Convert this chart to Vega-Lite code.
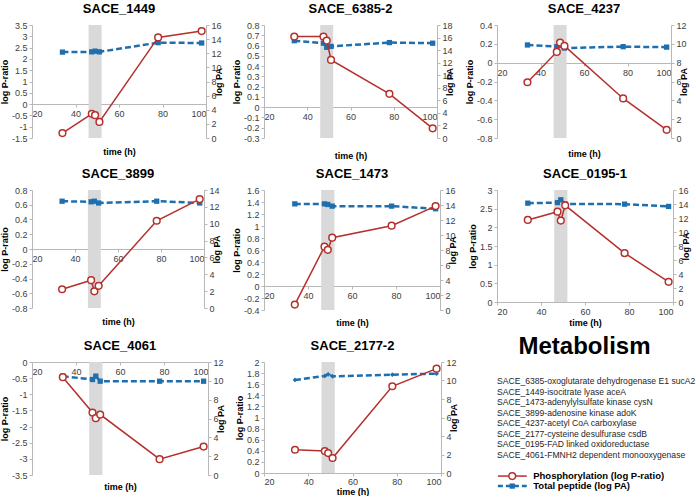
{
 "$schema": "https://vega.github.io/schema/vega-lite/v6.json",
 "padding": {"left": 0, "top": 3, "right": 0, "bottom": 0},
 "config": {
  "view": {"stroke": null},
  "font": "Liberation Sans",
  "title": {"font": "Liberation Sans", "fontSize": 13, "fontWeight": "bold", "color": "#000", "offset": 5, "anchor": "middle"},
  "axis": {"labelFont": "Liberation Sans", "labelFontSize": 9, "labelColor": "#404040", "titleFont": "Liberation Sans", "titleFontSize": 9, "titleFontWeight": "bold", "titleColor": "#000", "domainColor": "#b8b8b8", "tickColor": "#b8b8b8", "tickSize": 3, "grid": false, "labelPadding": 2, "titlePadding": 2}
 },
 "datasets": {
  "band": [{"start": 46, "end": 52}],
  "d": [
   {"gene": "SACE_1449", "t": 34, "pr": -1.28, "pa": 12.16},
   {"gene": "SACE_1449", "t": 47.5, "pr": -0.43, "pa": 12.2},
   {"gene": "SACE_1449", "t": 49, "pr": -0.49, "pa": 12.3},
   {"gene": "SACE_1449", "t": 51, "pr": -0.79, "pa": 12.2},
   {"gene": "SACE_1449", "t": 78, "pr": 2.95, "pa": 13.5},
   {"gene": "SACE_1449", "t": 98, "pr": 3.23, "pa": 13.45},
   {"gene": "SACE_6385-2", "t": 34, "pr": 0.687, "pa": 15.5},
   {"gene": "SACE_6385-2", "t": 47.5, "pr": 0.687, "pa": 15.1},
   {"gene": "SACE_6385-2", "t": 49, "pr": 0.648, "pa": 14.45},
   {"gene": "SACE_6385-2", "t": 51, "pr": 0.46, "pa": 14.6},
   {"gene": "SACE_6385-2", "t": 78, "pr": 0.13, "pa": 15.2},
   {"gene": "SACE_6385-2", "t": 98, "pr": -0.206, "pa": 15.1},
   {"gene": "SACE_4237", "t": 34, "pr": -0.208, "pa": 9.88},
   {"gene": "SACE_4237", "t": 47.5, "pr": 0.114, "pa": 9.7},
   {"gene": "SACE_4237", "t": 49, "pr": 0.213, "pa": 9.85},
   {"gene": "SACE_4237", "t": 51, "pr": 0.178, "pa": 9.55},
   {"gene": "SACE_4237", "t": 78, "pr": -0.38, "pa": 9.7},
   {"gene": "SACE_4237", "t": 98, "pr": -0.713, "pa": 9.65},
   {"gene": "SACE_3899", "t": 34, "pr": -0.546, "pa": 12.67},
   {"gene": "SACE_3899", "t": 47.5, "pr": -0.423, "pa": 12.6},
   {"gene": "SACE_3899", "t": 49, "pr": -0.574, "pa": 12.67},
   {"gene": "SACE_3899", "t": 51, "pr": -0.499, "pa": 12.46},
   {"gene": "SACE_3899", "t": 78, "pr": 0.383, "pa": 12.67},
   {"gene": "SACE_3899", "t": 98, "pr": 0.677, "pa": 12.46},
   {"gene": "SACE_1473", "t": 34, "pr": -0.309, "pa": 14.15},
   {"gene": "SACE_1473", "t": 47.5, "pr": 0.656, "pa": 14.15},
   {"gene": "SACE_1473", "t": 49, "pr": 0.603, "pa": 14.07},
   {"gene": "SACE_1473", "t": 51, "pr": 0.806, "pa": 13.85},
   {"gene": "SACE_1473", "t": 78, "pr": 1.005, "pa": 13.85},
   {"gene": "SACE_1473", "t": 98, "pr": 1.332, "pa": 13.5},
   {"gene": "SACE_0195-1", "t": 34, "pr": 2.197, "pa": 14.12},
   {"gene": "SACE_0195-1", "t": 47.5, "pr": 2.42, "pa": 14.2},
   {"gene": "SACE_0195-1", "t": 49, "pr": 2.18, "pa": 14.6},
   {"gene": "SACE_0195-1", "t": 51, "pr": 2.59, "pa": 14.0},
   {"gene": "SACE_0195-1", "t": 78, "pr": 1.31, "pa": 13.98},
   {"gene": "SACE_0195-1", "t": 98, "pr": 0.54, "pa": 13.65},
   {"gene": "SACE_4061", "t": 34, "pr": -0.47, "pa": 10.49},
   {"gene": "SACE_4061", "t": 47.5, "pr": -1.566, "pa": 10.14},
   {"gene": "SACE_4061", "t": 49, "pr": -1.74, "pa": 10.5},
   {"gene": "SACE_4061", "t": 51, "pr": -1.627, "pa": 9.96},
   {"gene": "SACE_4061", "t": 78, "pr": -3.01, "pa": 9.96},
   {"gene": "SACE_4061", "t": 98, "pr": -2.62, "pa": 9.96},
   {"gene": "SACE_2177-2", "t": 34, "pr": 0.419, "pa": 10.06},
   {"gene": "SACE_2177-2", "t": 47.5, "pr": 0.395, "pa": 10.49},
   {"gene": "SACE_2177-2", "t": 49, "pr": 0.359, "pa": 10.67},
   {"gene": "SACE_2177-2", "t": 51, "pr": 0.27, "pa": 10.45},
   {"gene": "SACE_2177-2", "t": 78, "pr": 1.563, "pa": 10.63},
   {"gene": "SACE_2177-2", "t": 98, "pr": 1.88, "pa": 10.74}
  ],
  "genes": [
   {"r": 1, "s": "SACE_6385-oxoglutarate dehydrogenase E1 sucA2"},
   {"r": 2, "s": "SACE_1449-isocitrate lyase aceA"},
   {"r": 3, "s": "SACE_1473-adenylylsulfate kinase cysN"},
   {"r": 4, "s": "SACE_3899-adenosine kinase adoK"},
   {"r": 5, "s": "SACE_4237-acetyl CoA carboxylase"},
   {"r": 6, "s": "SACE_2177-cysteine desulfurase csdB"},
   {"r": 7, "s": "SACE_0195-FAD linked oxidoreductase"},
   {"r": 8, "s": "SACE_4061-FMNH2 dependent monooxygenase"}
  ],
  "leg": [
   {"k": "P", "x": 0.5, "r": 10.0},
   {"k": "P", "x": 17, "r": 10.0},
   {"k": "T", "x": 0.5, "r": 10.95},
   {"k": "T", "x": 17, "r": 10.95}
  ],
  "legpt": [
   {"k": "P", "x": 8.7, "r": 10.0, "s": "Phosphorylation (log P-ratio)"},
   {"k": "T", "x": 8.7, "r": 10.95, "s": "Total peptide (log PA)"}
  ]
 },
 "bounds": "flush",
 "columns": 3,
 "spacing": {"row": 52, "column": 56},
 "concat": [
    {
     "title": "SACE_1449", "width": 174, "height": 113,
     "layer": [
      {"data": {"name": "band"}, "mark": {"type": "rect", "color": "#d9d9d9"},
       "encoding": {"x": {"field": "start", "type": "quantitative", "scale": {"domain": [20, 100], "nice": false, "zero": false}, "axis": {"values": [20, 30, 40, 50, 60, 70, 80, 90, 100], "title": "time (h)", "offset": -34, "titleY": 43, "titleBaseline": "top"}}, "x2": {"field": "end"}}},
      {"data": {"name": "d"}, "transform": [{"filter": "datum.gene === 'SACE_1449'"}],
       "mark": {"type": "line", "color": "#1f6fae", "strokeWidth": 2.5, "strokeDash": [6, 3], "point": {"shape": "square", "size": 28, "filled": true, "color": "#1f6fae"}},
       "encoding": {"x": {"field": "t", "type": "quantitative"}, "y": {"field": "pa", "type": "quantitative", "scale": {"domain": [0, 16], "nice": false, "zero": false}, "axis": {"orient": "right", "values": [0, 2, 4, 6, 8, 10, 12, 14, 16], "title": "log PA", "titleAngle": -90}}}},
      {"data": {"name": "d"}, "transform": [{"filter": "datum.gene === 'SACE_1449'"}],
       "mark": {"type": "line", "color": "#b5302c", "strokeWidth": 1.5, "point": {"filled": false, "fill": "white", "size": 45, "strokeWidth": 1.5, "color": "#b5302c"}},
       "encoding": {"x": {"field": "t", "type": "quantitative"}, "y": {"field": "pr", "type": "quantitative", "scale": {"domain": [-1.5, 3.5], "nice": false, "zero": false}, "axis": {"orient": "left", "values": [-1.5, -1, -0.5, 0, 0.5, 1, 1.5, 2, 2.5, 3, 3.5], "labelExpr": "'' + datum.value", "title": "log P-ratio"}}}}
     ],
     "resolve": {"scale": {"y": "independent"}}
    },
    {
     "title": "SACE_6385-2", "width": 173, "height": 113,
     "layer": [
      {"data": {"name": "band"}, "mark": {"type": "rect", "color": "#d9d9d9"},
       "encoding": {"x": {"field": "start", "type": "quantitative", "scale": {"domain": [20, 100], "nice": false, "zero": false}, "axis": {"values": [20, 30, 40, 50, 60, 70, 80, 90, 100], "title": "time (h)", "offset": -31, "titleY": 44, "titleBaseline": "top"}}, "x2": {"field": "end"}}},
      {"data": {"name": "d"}, "transform": [{"filter": "datum.gene === 'SACE_6385-2'"}],
       "mark": {"type": "line", "color": "#1f6fae", "strokeWidth": 2.5, "strokeDash": [6, 3], "point": {"shape": "square", "size": 28, "filled": true, "color": "#1f6fae"}},
       "encoding": {"x": {"field": "t", "type": "quantitative"}, "y": {"field": "pa", "type": "quantitative", "scale": {"domain": [0, 18], "nice": false, "zero": false}, "axis": {"orient": "right", "values": [0, 2, 4, 6, 8, 10, 12, 14, 16, 18], "title": "log PA", "titleAngle": -90}}}},
      {"data": {"name": "d"}, "transform": [{"filter": "datum.gene === 'SACE_6385-2'"}],
       "mark": {"type": "line", "color": "#b5302c", "strokeWidth": 1.5, "point": {"filled": false, "fill": "white", "size": 45, "strokeWidth": 1.5, "color": "#b5302c"}},
       "encoding": {"x": {"field": "t", "type": "quantitative"}, "y": {"field": "pr", "type": "quantitative", "scale": {"domain": [-0.3, 0.8], "nice": false, "zero": false}, "axis": {"orient": "left", "values": [-0.3, -0.2, -0.1, 0, 0.1, 0.2, 0.3, 0.4, 0.5, 0.6, 0.7, 0.8], "labelExpr": "'' + datum.value", "title": "log P-ratio"}}}}
     ],
     "resolve": {"scale": {"y": "independent"}}
    },
    {
     "title": "SACE_4237", "width": 174, "height": 113,
     "layer": [
      {"data": {"name": "band"}, "mark": {"type": "rect", "color": "#d9d9d9"},
       "encoding": {"x": {"field": "start", "type": "quantitative", "scale": {"domain": [20, 100], "nice": false, "zero": false}, "axis": {"values": [20, 30, 40, 50, 60, 70, 80, 90, 100], "title": "time (h)", "offset": -75, "titleY": 86, "titleBaseline": "top"}}, "x2": {"field": "end"}}},
      {"data": {"name": "d"}, "transform": [{"filter": "datum.gene === 'SACE_4237'"}],
       "mark": {"type": "line", "color": "#1f6fae", "strokeWidth": 2.5, "strokeDash": [6, 3], "point": {"shape": "square", "size": 28, "filled": true, "color": "#1f6fae"}},
       "encoding": {"x": {"field": "t", "type": "quantitative"}, "y": {"field": "pa", "type": "quantitative", "scale": {"domain": [0, 12], "nice": false, "zero": false}, "axis": {"orient": "right", "values": [0, 2, 4, 6, 8, 10, 12], "title": "log PA", "titleAngle": -90}}}},
      {"data": {"name": "d"}, "transform": [{"filter": "datum.gene === 'SACE_4237'"}],
       "mark": {"type": "line", "color": "#b5302c", "strokeWidth": 1.5, "point": {"filled": false, "fill": "white", "size": 45, "strokeWidth": 1.5, "color": "#b5302c"}},
       "encoding": {"x": {"field": "t", "type": "quantitative"}, "y": {"field": "pr", "type": "quantitative", "scale": {"domain": [-0.8, 0.4], "nice": false, "zero": false}, "axis": {"orient": "left", "values": [-0.8, -0.6, -0.4, -0.2, 0, 0.2, 0.4], "labelExpr": "'' + datum.value", "title": "log P-ratio"}}}}
     ],
     "resolve": {"scale": {"y": "independent"}}
    },
      {
       "title": "SACE_3899", "width": 172, "height": 118,
       "layer": [
        {"data": {"name": "band"}, "mark": {"type": "rect", "color": "#d9d9d9"},
         "encoding": {"x": {"field": "start", "type": "quantitative", "scale": {"domain": [20, 100], "nice": false, "zero": false}, "axis": {"values": [20, 30, 40, 50, 60, 70, 80, 90, 100], "title": "time (h)", "offset": -59, "titleY": 68, "titleBaseline": "top"}}, "x2": {"field": "end"}}},
        {"data": {"name": "d"}, "transform": [{"filter": "datum.gene === 'SACE_3899'"}],
         "mark": {"type": "line", "color": "#1f6fae", "strokeWidth": 2.5, "strokeDash": [6, 3], "point": {"shape": "square", "size": 28, "filled": true, "color": "#1f6fae"}},
         "encoding": {"x": {"field": "t", "type": "quantitative"}, "y": {"field": "pa", "type": "quantitative", "scale": {"domain": [0, 14], "nice": false, "zero": false}, "axis": {"orient": "right", "values": [0, 2, 4, 6, 8, 10, 12, 14], "title": "log PA", "titleAngle": -90}}}},
        {"data": {"name": "d"}, "transform": [{"filter": "datum.gene === 'SACE_3899'"}],
         "mark": {"type": "line", "color": "#b5302c", "strokeWidth": 1.5, "point": {"filled": false, "fill": "white", "size": 45, "strokeWidth": 1.5, "color": "#b5302c"}},
         "encoding": {"x": {"field": "t", "type": "quantitative"}, "y": {"field": "pr", "type": "quantitative", "scale": {"domain": [-0.8, 0.8], "nice": false, "zero": false}, "axis": {"orient": "left", "values": [-0.8, -0.6, -0.4, -0.2, 0, 0.2, 0.4, 0.6, 0.8], "labelExpr": "'' + datum.value", "title": "log P-ratio"}}}}
       ],
       "resolve": {"scale": {"y": "independent"}}
      },
      {
       "title": "SACE_1473", "width": 176, "height": 120,
       "layer": [
        {"data": {"name": "band"}, "mark": {"type": "rect", "color": "#d9d9d9"},
         "encoding": {"x": {"field": "start", "type": "quantitative", "scale": {"domain": [20, 100], "nice": false, "zero": false}, "axis": {"values": [20, 30, 40, 50, 60, 70, 80, 90, 100], "title": "time (h)", "offset": -24, "titleY": 32, "titleBaseline": "top"}}, "x2": {"field": "end"}}},
        {"data": {"name": "d"}, "transform": [{"filter": "datum.gene === 'SACE_1473'"}],
         "mark": {"type": "line", "color": "#1f6fae", "strokeWidth": 2.5, "strokeDash": [6, 3], "point": {"shape": "square", "size": 28, "filled": true, "color": "#1f6fae"}},
         "encoding": {"x": {"field": "t", "type": "quantitative"}, "y": {"field": "pa", "type": "quantitative", "scale": {"domain": [0, 16], "nice": false, "zero": false}, "axis": {"orient": "right", "values": [0, 2, 4, 6, 8, 10, 12, 14, 16], "title": "log PA", "titleAngle": -90}}}},
        {"data": {"name": "d"}, "transform": [{"filter": "datum.gene === 'SACE_1473'"}],
         "mark": {"type": "line", "color": "#b5302c", "strokeWidth": 1.5, "point": {"filled": false, "fill": "white", "size": 45, "strokeWidth": 1.5, "color": "#b5302c"}},
         "encoding": {"x": {"field": "t", "type": "quantitative"}, "y": {"field": "pr", "type": "quantitative", "scale": {"domain": [-0.4, 1.6], "nice": false, "zero": false}, "axis": {"orient": "left", "values": [-0.4, -0.2, 0, 0.2, 0.4, 0.6, 0.8, 1, 1.2, 1.4, 1.6], "labelExpr": "'' + datum.value", "title": "log P-ratio"}}}}
       ],
       "resolve": {"scale": {"y": "independent"}}
      },
      {
       "title": "SACE_0195-1", "width": 176, "height": 112,
       "layer": [
        {"data": {"name": "band"}, "mark": {"type": "rect", "color": "#d9d9d9"},
         "encoding": {"x": {"field": "start", "type": "quantitative", "scale": {"domain": [20, 100], "nice": false, "zero": false}, "axis": {"values": [20, 30, 40, 50, 60, 70, 80, 90, 100], "title": "time (h)"}}, "x2": {"field": "end"}}},
        {"data": {"name": "d"}, "transform": [{"filter": "datum.gene === 'SACE_0195-1'"}],
         "mark": {"type": "line", "color": "#1f6fae", "strokeWidth": 2.5, "strokeDash": [6, 3], "point": {"shape": "square", "size": 28, "filled": true, "color": "#1f6fae"}},
         "encoding": {"x": {"field": "t", "type": "quantitative"}, "y": {"field": "pa", "type": "quantitative", "scale": {"domain": [0, 16], "nice": false, "zero": false}, "axis": {"orient": "right", "values": [0, 2, 4, 6, 8, 10, 12, 14, 16], "title": "log PA", "titleAngle": -90}}}},
        {"data": {"name": "d"}, "transform": [{"filter": "datum.gene === 'SACE_0195-1'"}],
         "mark": {"type": "line", "color": "#b5302c", "strokeWidth": 1.5, "point": {"filled": false, "fill": "white", "size": 45, "strokeWidth": 1.5, "color": "#b5302c"}},
         "encoding": {"x": {"field": "t", "type": "quantitative"}, "y": {"field": "pr", "type": "quantitative", "scale": {"domain": [0, 3], "nice": false, "zero": false}, "axis": {"orient": "left", "values": [0, 0.5, 1, 1.5, 2, 2.5, 3], "labelExpr": "'' + datum.value", "title": "log P-ratio"}}}}
       ],
       "resolve": {"scale": {"y": "independent"}}
      },
      {
       "title": "SACE_4061", "width": 176, "height": 113,
       "layer": [
        {"data": {"name": "band"}, "mark": {"type": "rect", "color": "#d9d9d9"},
         "encoding": {"x": {"field": "start", "type": "quantitative", "scale": {"domain": [20, 100], "nice": false, "zero": false}, "axis": {"values": [20, 30, 40, 50, 60, 70, 80, 90, 100], "title": "time (h)", "offset": -113, "titleY": 120, "titleBaseline": "top"}}, "x2": {"field": "end"}}},
        {"data": {"name": "d"}, "transform": [{"filter": "datum.gene === 'SACE_4061'"}],
         "mark": {"type": "line", "color": "#1f6fae", "strokeWidth": 2.5, "strokeDash": [6, 3], "point": {"shape": "square", "size": 28, "filled": true, "color": "#1f6fae"}},
         "encoding": {"x": {"field": "t", "type": "quantitative"}, "y": {"field": "pa", "type": "quantitative", "scale": {"domain": [0, 12], "nice": false, "zero": false}, "axis": {"orient": "right", "values": [0, 2, 4, 6, 8, 10, 12], "title": "log PA", "titleAngle": -90}}}},
        {"data": {"name": "d"}, "transform": [{"filter": "datum.gene === 'SACE_4061'"}],
         "mark": {"type": "line", "color": "#b5302c", "strokeWidth": 1.5, "point": {"filled": false, "fill": "white", "size": 45, "strokeWidth": 1.5, "color": "#b5302c"}},
         "encoding": {"x": {"field": "t", "type": "quantitative"}, "y": {"field": "pr", "type": "quantitative", "scale": {"domain": [-3.5, 0], "nice": false, "zero": false}, "axis": {"orient": "left", "values": [-3.5, -3, -2.5, -2, -1.5, -1, -0.5, 0], "labelExpr": "'' + datum.value", "title": "log P-ratio"}}}}
       ],
       "resolve": {"scale": {"y": "independent"}}
      },
      {
       "title": "SACE_2177-2", "width": 177, "height": 111,
       "layer": [
        {"data": {"name": "band"}, "mark": {"type": "rect", "color": "#d9d9d9"},
         "encoding": {"x": {"field": "start", "type": "quantitative", "scale": {"domain": [20, 100], "nice": false, "zero": false}, "axis": {"values": [20, 30, 40, 50, 60, 70, 80, 90, 100], "title": "time (h)", "labelPadding": 1, "titlePadding": 1}}, "x2": {"field": "end"}}},
        {"data": {"name": "d"}, "transform": [{"filter": "datum.gene === 'SACE_2177-2'"}],
         "mark": {"type": "line", "color": "#1f6fae", "strokeWidth": 2.5, "strokeDash": [6, 3], "point": {"shape": "diamond", "size": 22, "filled": true, "color": "#1f6fae"}},
         "encoding": {"x": {"field": "t", "type": "quantitative"}, "y": {"field": "pa", "type": "quantitative", "scale": {"domain": [0, 12], "nice": false, "zero": false}, "axis": {"orient": "right", "values": [0, 2, 4, 6, 8, 10, 12], "title": "log PA", "titleAngle": -90}}}},
        {"data": {"name": "d"}, "transform": [{"filter": "datum.gene === 'SACE_2177-2'"}],
         "mark": {"type": "line", "color": "#b5302c", "strokeWidth": 1.5, "point": {"filled": false, "fill": "white", "size": 45, "strokeWidth": 1.5, "color": "#b5302c"}},
         "encoding": {"x": {"field": "t", "type": "quantitative"}, "y": {"field": "pr", "type": "quantitative", "scale": {"domain": [0, 2], "nice": false, "zero": false}, "axis": {"orient": "left", "values": [0, 0.2, 0.4, 0.6, 0.8, 1, 1.2, 1.4, 1.6, 1.8, 2], "labelExpr": "'' + datum.value", "title": "log P-ratio"}}}}
       ],
       "resolve": {"scale": {"y": "independent"}}
      },
      {
       "title": {"text": "Metabolism", "fontSize": 24, "offset": 3},
       "width": 175, "height": 113,
       "layer": [
        {"data": {"name": "genes"},
         "mark": {"type": "text", "align": "left", "baseline": "middle", "fontSize": 8.6, "font": "Liberation Sans", "color": "#262626"},
         "encoding": {"x": {"datum": 0, "type": "quantitative", "scale": {"domain": [0, 100]}, "axis": null}, "y": {"field": "r", "type": "quantitative", "scale": {"domain": [-0.8, 9.9], "reverse": true, "nice": false, "zero": false}, "axis": null}, "text": {"field": "s"}}},
        {"data": {"name": "leg"}, "transform": [{"filter": "datum.k === 'P'"}],
         "mark": {"type": "line", "color": "#b5302c", "strokeWidth": 1.5},
         "encoding": {"x": {"field": "x", "type": "quantitative"}, "y": {"field": "r", "type": "quantitative"}}},
        {"data": {"name": "leg"}, "transform": [{"filter": "datum.k === 'T'"}],
         "mark": {"type": "line", "color": "#1f6fae", "strokeWidth": 2.5, "strokeDash": [5, 3]},
         "encoding": {"x": {"field": "x", "type": "quantitative"}, "y": {"field": "r", "type": "quantitative"}}},
        {"data": {"name": "legpt"}, "transform": [{"filter": "datum.k === 'P'"}],
         "mark": {"type": "point", "filled": false, "fill": "white", "size": 45, "strokeWidth": 1.5, "color": "#b5302c", "opacity": 1},
         "encoding": {"x": {"field": "x", "type": "quantitative"}, "y": {"field": "r", "type": "quantitative"}}},
        {"data": {"name": "legpt"}, "transform": [{"filter": "datum.k === 'T'"}],
         "mark": {"type": "square", "size": 28, "color": "#1f6fae", "opacity": 1},
         "encoding": {"x": {"field": "x", "type": "quantitative"}, "y": {"field": "r", "type": "quantitative"}}},
        {"data": {"name": "legpt"},
         "mark": {"type": "text", "align": "left", "baseline": "middle", "fontSize": 9.5, "fontWeight": "bold", "font": "Liberation Sans", "color": "#000", "dx": 21},
         "encoding": {"x": {"field": "x", "type": "quantitative"}, "y": {"field": "r", "type": "quantitative"}, "text": {"field": "s"}}}
       ]
      }
 ]
}
